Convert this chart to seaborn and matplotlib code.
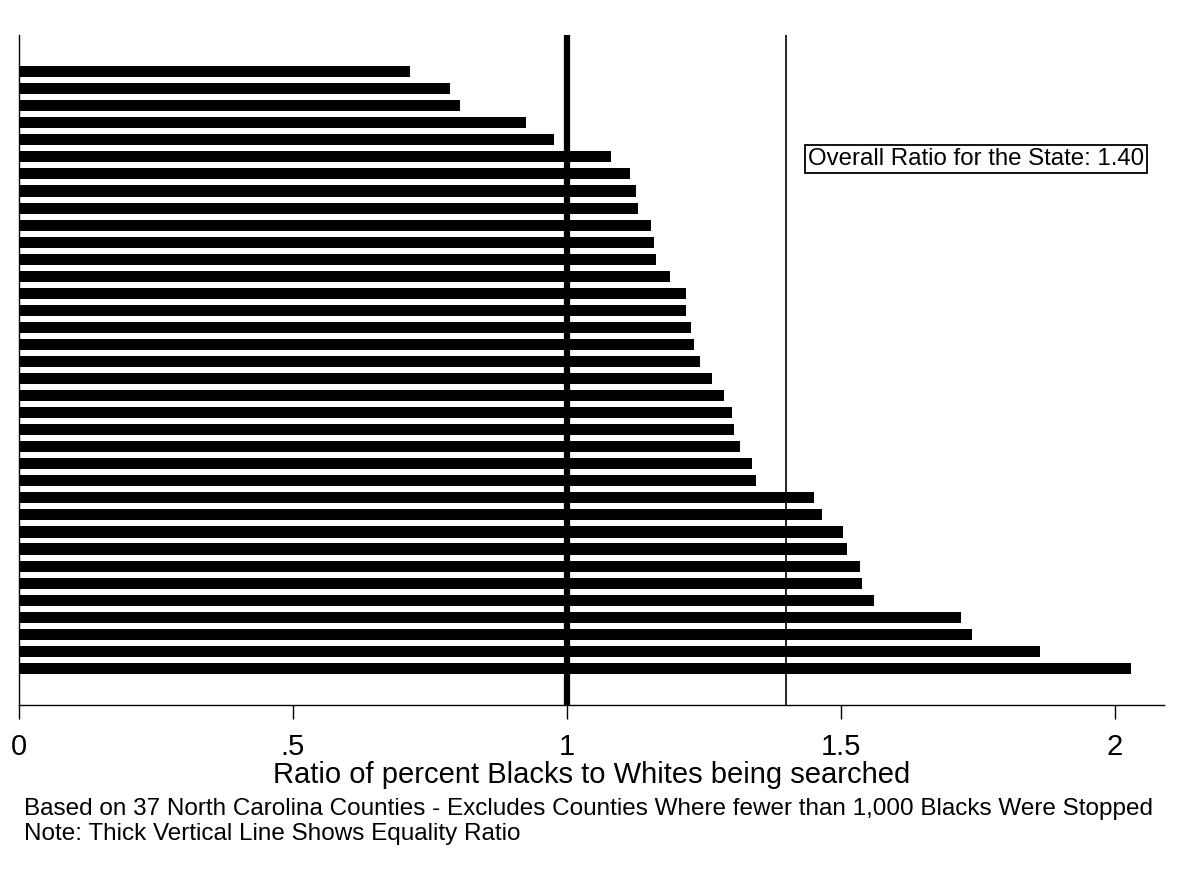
import numpy as np
import pandas as pd
import matplotlib
matplotlib.use("Agg")
import matplotlib.pyplot as plt
import seaborn as sns

# ── data ──────────────────────────────────────────────────────────────────────
# ratio of percent Blacks to Whites searched, one value per county (sorted)
ratios = [0.714, 0.786, 0.805, 0.925, 0.976, 1.081, 1.115, 1.126, 1.129,
          1.154, 1.159, 1.162, 1.188, 1.217, 1.217, 1.227, 1.232, 1.243,
          1.265, 1.286, 1.301, 1.305, 1.316, 1.338, 1.345, 1.451, 1.465,
          1.504, 1.512, 1.535, 1.538, 1.560, 1.720, 1.739, 1.863, 2.030]
counties = [f"county_{i + 1}" for i in range(len(ratios))]
equality_ratio = 1.0
state_ratio = 1.40
x_ticks = [0, 0.5, 1, 1.5, 2]
x_tick_labels = ["0", ".5", "1", "1.5", "2"]

df = pd.DataFrame({"county": counties, "ratio": ratios})

# ── plot ──────────────────────────────────────────────────────────────────────
sns.set_style("white")
plt.rcParams["font.family"] = ["Liberation Sans", "DejaVu Sans"]
plt.rcParams["text.color"] = "black"
plt.rcParams["axes.labelcolor"] = "black"
plt.rcParams["xtick.color"] = "black"

fig = plt.figure(figsize=(11.87, 8.82), dpi=100)
ax = fig.add_axes([19 / 1187, 1 - 705 / 882, (1164 - 19) / 1187, (705 - 35) / 882])

sns.barplot(data=df, x="ratio", y="county", color="black", saturation=1,
            width=0.65, linewidth=0, errorbar=None, ax=ax)

ax.axvline(equality_ratio, color="black", lw=4.5, zorder=3)
ax.axvline(state_ratio, color="black", lw=1.2, zorder=3)

ax.text((808 - 19) / 1145, 1 - (159 - 35) / 670,
        f"Overall Ratio for the State: {state_ratio:.2f}",
        transform=ax.transAxes, ha="left", va="center", fontsize=17.3,
        bbox=dict(boxstyle="square,pad=0.12", facecolor="white",
                  edgecolor="black", linewidth=1.3))

ax.set_xlim(0, 2.09)
ax.set_ylim(37.15, -2.15)
ax.set_xticks(x_ticks)
ax.set_xticklabels(x_tick_labels, fontsize=21)
ax.set_yticks([])
ax.set_ylabel("")
ax.set_xlabel("Ratio of percent Blacks to Whites being searched", fontsize=21,
              labelpad=0)
ax.tick_params(axis="x", direction="out", length=10, width=1, color="black",
               pad=10, bottom=True)
for side in ["top", "right"]:
    ax.spines[side].set_visible(False)
for side in ["left", "bottom"]:
    ax.spines[side].set_color("black")
    ax.spines[side].set_linewidth(1)

fig.text(24 / 1187, 1 - 809 / 882,
         "Based on 37 North Carolina Counties - Excludes Counties Where fewer than 1,000 Blacks Were Stopped",
         fontsize=17.5, va="center", ha="left")
fig.text(24 / 1187, 1 - 834 / 882, "Note: Thick Vertical Line Shows Equality Ratio",
         fontsize=17.5, va="center", ha="left")

fig.savefig("out.png", dpi=100, facecolor="white")
plt.close()
